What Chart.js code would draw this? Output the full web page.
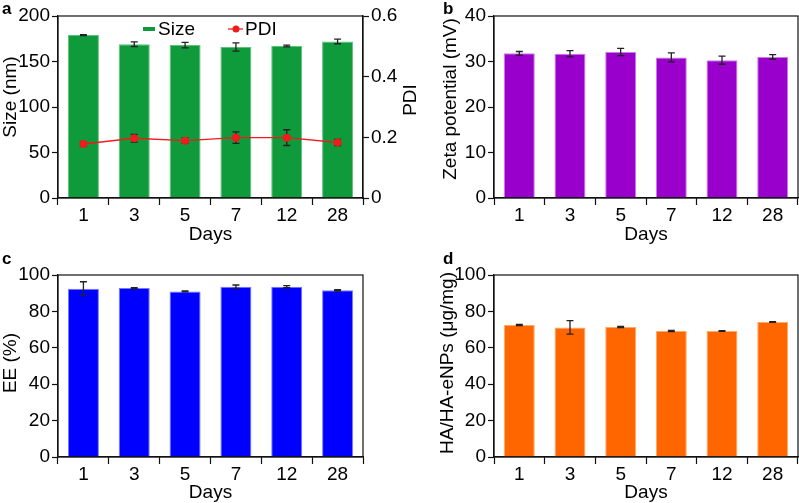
<!DOCTYPE html>
<html>
<head>
<meta charset="utf-8">
<script src="https://cdn.jsdelivr.net/npm/chart.js@4.4.0/dist/chart.umd.min.js"></script>
<style>
  body { margin: 0; background: #fff; }
  #wrap { position: relative; width: 799px; height: 503px; }
  .panel { position: absolute; }
</style>
</head>
<body>
<div id="wrap">
  <div class="panel" style="left:0;top:0;width:425px;height:250px"><canvas id="chart-a"></canvas></div>
  <div class="panel" style="left:425px;top:0;width:374px;height:250px"><canvas id="chart-b"></canvas></div>
  <div class="panel" style="left:0;top:250px;width:425px;height:253px"><canvas id="chart-c"></canvas></div>
  <div class="panel" style="left:425px;top:250px;width:374px;height:253px"><canvas id="chart-d"></canvas></div>
</div>
<script>
const days = ["1", "3", "5", "7", "12", "28"];

const sizeNm = [179, 169, 168, 166, 167, 172];
const sizeErr = [0.5, 2.5, 3, 4.5, 1, 2.5];
const pdi = [0.178, 0.197, 0.189, 0.199, 0.199, 0.183];
const pdiErr = [0.008, 0.013, 0.009, 0.019, 0.026, 0.01];

const zeta = [31.8, 31.7, 32.1, 30.9, 30.3, 31.0];
const zetaErr = [0.4, 0.7, 0.8, 1.0, 0.9, 0.5];

const ee = [92.5, 92.8, 91.0, 93.6, 93.6, 91.6];
const eeErr = [3.8, 0.3, 0.3, 0.9, 0.6, 0.4];

const haLoad = [72.5, 71.2, 71.4, 69.2, 69.2, 74.2];
const haErr = [0.3, 3.7, 0.3, 0.3, 0.2, 0.2];

const FONT = "'Liberation Sans', Arial, sans-serif";
const FS = 19;

// error bars, box around the plot, y titles, panel letter and legend
const extras = {
  id: "extras",
  afterDatasetsDraw(chart) {
    const ctx = chart.ctx;
    chart.data.datasets.forEach((ds, i) => {
      if (!ds.errors) return;
      const meta = chart.getDatasetMeta(i);
      const scale = chart.scales[meta.yAxisID];
      ctx.save();
      ctx.strokeStyle = "#222";
      ctx.lineWidth = 1.3;
      meta.data.forEach((el, j) => {
        const v = ds.data[j];
        const e = ds.errors[j];
        const yt = scale.getPixelForValue(v + e);
        const yb = scale.getPixelForValue(v - e);
        const x = el.x;
        ctx.beginPath();
        ctx.moveTo(x, yt); ctx.lineTo(x, yb);
        ctx.moveTo(x - 3.5, yt); ctx.lineTo(x + 3.5, yt);
        ctx.moveTo(x - 3.5, yb); ctx.lineTo(x + 3.5, yb);
        ctx.stroke();
      });
      ctx.restore();
    });
    // redraw line points on top of their error bars
    chart.data.datasets.forEach((ds, i) => {
      if (ds.type !== "line") return;
      const meta = chart.getDatasetMeta(i);
      ctx.save();
      ctx.fillStyle = ds.borderColor;
      meta.data.forEach((el) => {
        ctx.beginPath();
        ctx.arc(el.x, el.y, 4, 0, Math.PI * 2);
        ctx.fill();
      });
      ctx.restore();
    });
  },
  afterDraw(chart, args, opts) {
    const ctx = chart.ctx;
    const a = chart.chartArea;
    ctx.save();
    ctx.strokeStyle = "#111";
    ctx.lineWidth = 1.2;
    ctx.strokeRect(a.left, a.top, a.right - a.left, a.bottom - a.top);
    ctx.fillStyle = "#000";
    ctx.font = "bold 17px " + FONT;
    ctx.textBaseline = "top";
    ctx.fillText(opts.letter, opts.lx, opts.ly);

    ctx.font = FS + "px " + FONT;
    ctx.textAlign = "center";
    ctx.textBaseline = "middle";
    (opts.titles || []).forEach((t) => {
      ctx.save();
      ctx.translate(t.x, t.y);
      ctx.rotate(-Math.PI / 2);
      ctx.fillText(t.text, 0, 0);
      ctx.restore();
    });

    if (opts.legend) {
      const lg = opts.legend;
      ctx.textAlign = "left";
      ctx.fillStyle = chart.data.datasets[0].backgroundColor;
      ctx.fillRect(lg.x, lg.y - 2, 12, 4);
      ctx.fillStyle = "#000";
      ctx.fillText(chart.data.datasets[0].label, lg.x + 15, lg.y + 1);
      const c = chart.data.datasets[1].borderColor;
      ctx.strokeStyle = c;
      ctx.lineWidth = 1.3;
      ctx.beginPath();
      ctx.moveTo(lg.x + 85, lg.y); ctx.lineTo(lg.x + 100, lg.y);
      ctx.stroke();
      ctx.fillStyle = c;
      ctx.beginPath();
      ctx.arc(lg.x + 93, lg.y, 3.5, 0, Math.PI * 2);
      ctx.fill();
      ctx.fillStyle = "#000";
      ctx.fillText(chart.data.datasets[1].label, lg.x + 102, lg.y + 1);
    }
    ctx.restore();
  }
};

function yAxis(max, step, width, position, decimals) {
  return {
    position: position,
    min: 0,
    max: max,
    afterFit(s) { s.width = width; },
    border: { display: true, color: "#111", width: 1.2 },
    grid: { drawOnChartArea: false, drawTicks: true, tickLength: 6, color: "#111", tickWidth: 1.2 },
    ticks: {
      stepSize: step,
      color: "#000",
      padding: 2,
      font: { family: FONT, size: FS },
      callback: (v) => (decimals ? (v === 0 ? "0" : v.toFixed(decimals)) : v)
    },
    title: { display: false }
  };
}

function xAxis(height, titleLift) {
  return {
    offset: true,
    afterFit(s) { s.height = height; },
    border: { display: true, color: "#111", width: 1.2 },
    grid: { offset: true, drawOnChartArea: false, drawTicks: true, tickLength: 7, color: "#111", tickWidth: 1.2 },
    ticks: { color: "#000", padding: 1, font: { family: FONT, size: FS, lineHeight: 1 } },
    title: {
      display: true, text: "Days", color: "#000",
      font: { family: FONT, size: FS, lineHeight: 1 },
      padding: { top: 0, bottom: titleLift }
    }
  };
}

function barSet(label, values, errors, color, edge) {
  return {
    type: "bar",
    label: label,
    data: values,
    errors: errors,
    backgroundColor: color,
    borderColor: edge,
    borderWidth: 1,
    categoryPercentage: 1,
    barPercentage: 0.61,
    order: 2,
    yAxisID: "y"
  };
}

function baseOptions(padding, scales, extraOpts) {
  return {
    responsive: false,
    animation: false,
    layout: { padding: padding },
    plugins: { legend: { display: false }, tooltip: { enabled: false }, extras: extraOpts },
    scales: scales
  };
}

function makeCanvas(id, w, h) {
  const c = document.getElementById(id);
  c.width = w; c.height = h;
  c.style.width = w + "px"; c.style.height = h + "px";
  return c;
}

// panel a: size bars + PDI line
new Chart(makeCanvas("chart-a", 425, 250), {
  type: "bar",
  data: {
    labels: days,
    datasets: [
      barSet("Size", sizeNm, sizeErr, "#0f9a3b", "#5cc27a"),
      {
        type: "line",
        label: "PDI",
        data: pdi,
        errors: pdiErr,
        borderColor: "#ee1c1c",
        backgroundColor: "#ee1c1c",
        borderWidth: 1.3,
        pointRadius: 0,
        order: 1,
        yAxisID: "y1"
      }
    ]
  },
  options: baseOptions(
    { left: 0, right: 0, top: 16, bottom: 0 },
    { x: xAxis(52, 6), y: yAxis(200, 50, 58, "left", 0), y1: yAxis(0.6, 0.2, 62, "right", 1) },
    {
      letter: "a", lx: 2, ly: 1, legend: { x: 143, y: 29 },
      titles: [{ text: "Size (nm)", x: 11, y: 97 }, { text: "PDI", x: 411, y: 100 }]
    }
  ),
  plugins: [extras]
});

// panel b: zeta potential
new Chart(makeCanvas("chart-b", 374, 250), {
  type: "bar",
  data: { labels: days, datasets: [barSet("Zeta", zeta, zetaErr, "#9900cc", "#cc77ee")] },
  options: baseOptions(
    { left: 0, right: 1, top: 16, bottom: 0 },
    { x: xAxis(52, 6), y: yAxis(40, 10, 69, "left", 0) },
    { letter: "b", lx: 18, ly: 1, titles: [{ text: "Zeta potential (mV)", x: 26, y: 99 }] }
  ),
  plugins: [extras]
});

// panel c: EE
new Chart(makeCanvas("chart-c", 425, 253), {
  type: "bar",
  data: { labels: days, datasets: [barSet("EE", ee, eeErr, "#0000ff", "#7777ff")] },
  options: baseOptions(
    { left: 0, right: 62, top: 25, bottom: 0 },
    { x: xAxis(46, 1), y: yAxis(100, 20, 58, "left", 0) },
    { letter: "c", lx: 2, ly: 1, titles: [{ text: "EE (%)", x: 11, y: 113 }] }
  ),
  plugins: [extras]
});

// panel d: HA loading
new Chart(makeCanvas("chart-d", 374, 253), {
  type: "bar",
  data: { labels: days, datasets: [barSet("HA", haLoad, haErr, "#ff6600", "#ffaa66")] },
  options: baseOptions(
    { left: 0, right: 1, top: 25, bottom: 0 },
    { x: xAxis(46, 1), y: yAxis(100, 20, 69, "left", 0) },
    { letter: "d", lx: 18, ly: 1, titles: [{ text: "HA/HA-eNPs (μg/mg)", x: 23, y: 113 }] }
  ),
  plugins: [extras]
});
</script>
</body>
</html>
